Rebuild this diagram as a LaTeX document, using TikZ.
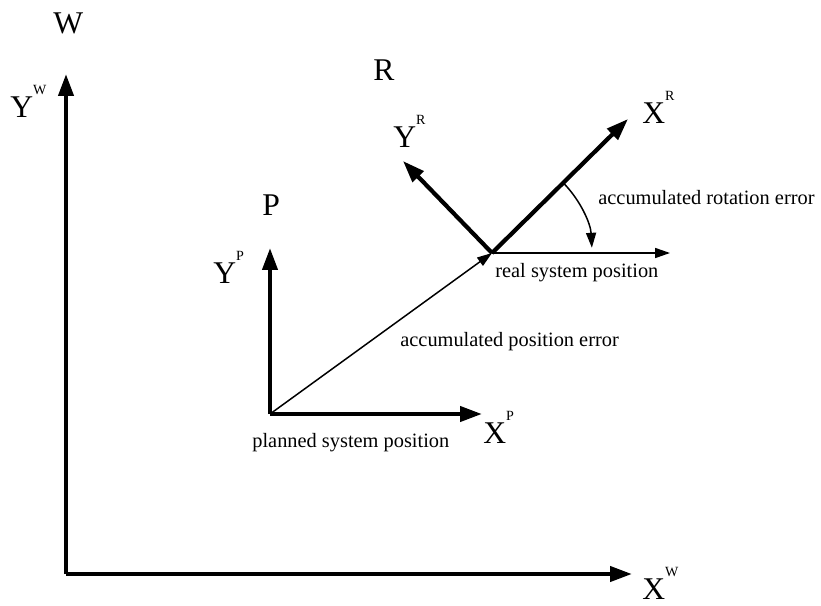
\documentclass[tikz,border=0pt]{standalone}
\usepackage{fontspec}
\setmainfont{Liberation Serif}
\usepackage{tikz}
\usetikzlibrary{arrows.meta, positioning, calc}
\newcommand{\axlabel}[2]{#1\raisebox{0.7em}{\fontsize{8}{9}\selectfont #2}}
\tikzset{
    axis/.style={line width=2.4pt, -{Triangle[length=12.5pt, width=8.5pt]}},
    thin arrow/.style={line width=0.85pt, -{Triangle[length=8.5pt, width=5.7pt]}},
    frame name/.style={font=\fontsize{18}{20}\selectfont, inner sep=0pt, anchor=base west},
    axis name/.style={font=\fontsize{18}{20}\selectfont, inner sep=0pt, anchor=base west},
    note/.style={font=\fontsize{11.6}{13}\selectfont, inner sep=0pt, anchor=west},
}
\begin{document}
\begin{tikzpicture}[x=0.02cm, y=-0.02cm]
        \useasboundingbox (0,0) rectangle (821,605);
        % world frame
        \coordinate (ow) at (66,574);
        \coordinate (yw) at (66,74);
        \coordinate (xw) at (632,574);
        \node[frame name] (w) at (53,33) {W};
        \node[axis name] (ywl) at (10,117) {\axlabel{Y}{W}};
        \node[axis name] (xwl) at (642,599) {\axlabel{X}{W}};
        \draw[axis] (ow) -- (yw);
        \draw[axis] (ow) -- (xw);
        % planned frame
        \coordinate (op) at (270,414);
        \coordinate (yp) at (270,248);
        \coordinate (xp) at (482,414);
        \node[frame name] (p) at (262,215) {P};
        \node[axis name] (ypl) at (213,283) {\axlabel{Y}{P}};
        \node[axis name] (xpl) at (483,443) {\axlabel{X}{P}};
        \draw[axis] (op) -- (yp);
        \draw[axis] (op) -- (xp);
        % real frame
        \coordinate (or) at (492,253);
        \coordinate (xr) at (628,119);
        \coordinate (yr) at (403,161);
        \coordinate (href) at (670,253);
        \node[frame name] (r) at (373,80) {R};
        \node[axis name] (yrl) at (393,147) {\axlabel{Y}{R}};
        \node[axis name] (xrl) at (642,123) {\axlabel{X}{R}};
        \draw[axis] (or) -- (xr);
        \draw[axis] (or) -- (yr);
        \draw[thin arrow] (or) -- (href);
        \draw[thin arrow] (op) -- (or);
        % rotation error
        \draw[thin arrow] ($(or)+(-44:100)$) arc[start angle=-44, end angle=-3, radius=100];
        \node[note] (rot) at (598,198) {accumulated rotation error};
        \node[note] (real) at (495,273) {real system position};
        \node[note] (pos) at (400,342) {accumulated position error};
        \node[note] (plan) at (252,443) {planned system position};
    \end{tikzpicture}
\end{document}
